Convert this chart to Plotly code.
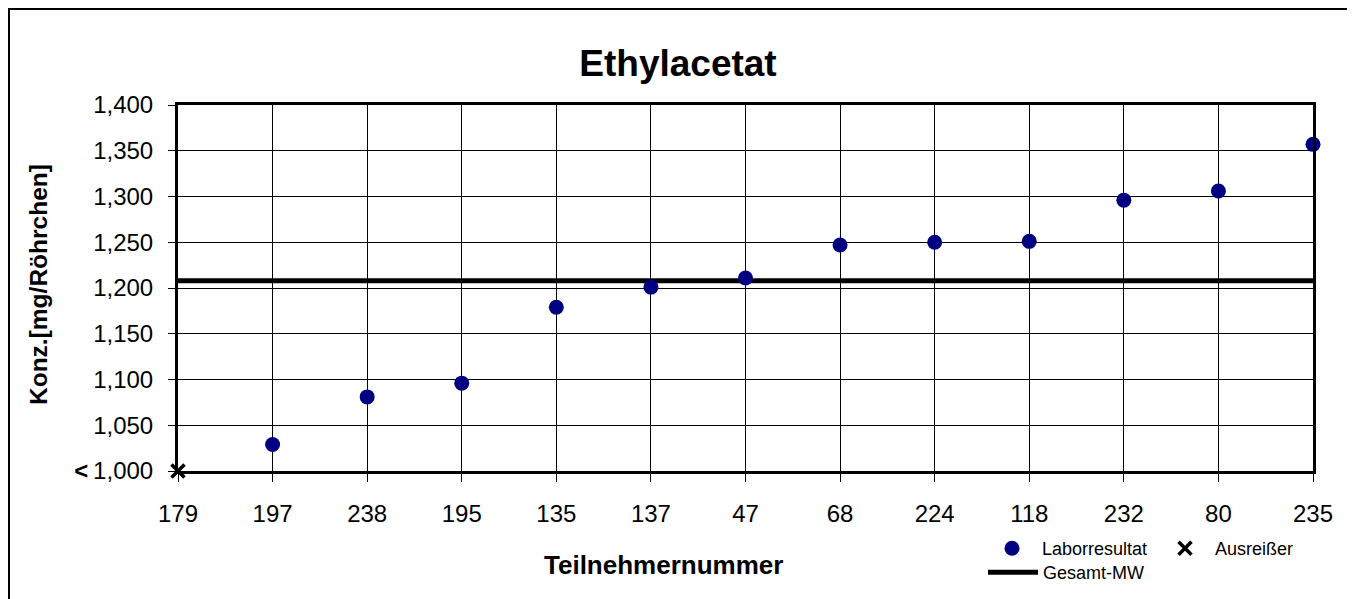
import plotly.graph_objects as go

categories = ['179', '197', '238', '195', '135', '137', '47', '68', '224', '118', '232', '80', '235']
lab_categories = ['197', '238', '195', '135', '137', '47', '68', '224', '118', '232', '80', '235']
lab_values = [1029, 1081, 1096, 1179, 1201, 1211, 1247, 1250, 1251, 1296, 1306, 1357]
outlier_categories = ['179']
outlier_values = [1000]
mean_value = 1208
y_tickvals = [1000, 1050, 1100, 1150, 1200, 1250, 1300, 1350, 1400]
y_ticktext = ['<b>&lt;</b>\u20091,000', '1,050', '1,100', '1,150', '1,200', '1,250', '1,300', '1,350', '1,400']

FONT = 'Liberation Sans, Arial, sans-serif'
OFF = 8  # browser body margin
W, H = 1355 - OFF, 599 - OFF
# plot area in page pixels
L, R, T, B = 178, 1313, 105, 471
pw, ph = R - L, B - T

def px_x(x):
    return (x - L) / pw

def px_y(y):
    return (B - y) / ph

def cx(x):  # page px -> container fraction
    return (x - OFF) / W

def cy(y):
    return 1 - (y - OFF) / H

fig = go.Figure()

fig.add_trace(go.Scatter(
    x=[categories[0], categories[-1]], y=[mean_value, mean_value],
    mode='lines', name='Gesamt-MW', line=dict(color='black', width=5),
    legend='legend2', cliponaxis=False, hoverinfo='skip'))

fig.add_trace(go.Scatter(
    x=lab_categories, y=lab_values, mode='markers', name='Laborresultat',
    marker=dict(color='#000080', size=15, line=dict(width=0)),
    legend='legend', cliponaxis=False))

fig.add_trace(go.Scatter(
    x=outlier_categories, y=outlier_values, mode='markers', name='Ausreißer',
    marker=dict(symbol='x-thin', size=13, line=dict(width=3.5, color='black'), color='black'),
    legend='legend', cliponaxis=False))

fig.update_layout(
    width=W, height=H,
    margin=dict(l=L - OFF, r=1355 - R, t=T - OFF, b=599 - B, autoexpand=False),
    paper_bgcolor='white', plot_bgcolor='white',
    font=dict(family=FONT, color='black', size=18),
    title=dict(text='<b>Ethylacetat</b>', x=cx(678), xref='container', xanchor='center',
               y=cy(63), yanchor='middle', yref='container',
               font=dict(size=37, family=FONT, color='black')),
    showlegend=True,
    legend=dict(orientation='h', xref='container', yref='container',
                x=cx(982), xanchor='left', y=cy(530), yanchor='top',
                font=dict(size=18, family=FONT), itemwidth=50, entrywidth=108,
                bgcolor='rgba(0,0,0,0)', borderwidth=0, tracegroupgap=0),
    legend2=dict(orientation='h', xref='container', yref='container',
                 x=cx(983), xanchor='left', y=cy(554), yanchor='top',
                 font=dict(size=18, family=FONT), itemwidth=50,
                 bgcolor='rgba(0,0,0,0)', borderwidth=0),
)

fig.update_xaxes(
    type='category', categoryorder='array', categoryarray=categories,
    range=[0, len(categories) - 1],
    showgrid=True, gridcolor='black', gridwidth=1,
    showline=True, linecolor='black', linewidth=3, mirror=True,
    ticks='outside', ticklen=8, tickcolor='black', tickwidth=1,
    tickfont=dict(size=24, family=FONT, color='black'),
    ticklabelstandoff=11, zeroline=False, fixedrange=True)

fig.update_yaxes(
    range=[1000, 1400], tickvals=y_tickvals, ticktext=y_ticktext,
    showgrid=True, gridcolor='black', gridwidth=1,
    showline=True, linecolor='black', linewidth=3, mirror=True,
    ticks='outside', ticklen=7, tickcolor='black', tickwidth=1,
    tickfont=dict(size=24, family=FONT, color='black'),
    ticklabelstandoff=10, zeroline=False, fixedrange=True)

fig.add_annotation(text='<b>Teilnehmernummer</b>', xref='paper', yref='paper',
                   x=px_x(663), y=px_y(565), showarrow=False,
                   xanchor='center', yanchor='middle',
                   font=dict(size=26, family=FONT, color='black'))
fig.add_annotation(text='<b>Konz.[mg/Röhrchen]</b>', xref='paper', yref='paper',
                   x=px_x(38), y=px_y(285), showarrow=False, textangle=-90,
                   xanchor='center', yanchor='middle',
                   font=dict(size=24.5, family=FONT, color='black'))

fig.add_shape(type='rect', xref='paper', yref='paper',
              x0=px_x(OFF + 1), x1=px_x(1348), y0=px_y(610), y1=px_y(OFF + 1),
              line=dict(color='black', width=2), fillcolor='rgba(0,0,0,0)', layer='below')

fig.write_html('out.html')
